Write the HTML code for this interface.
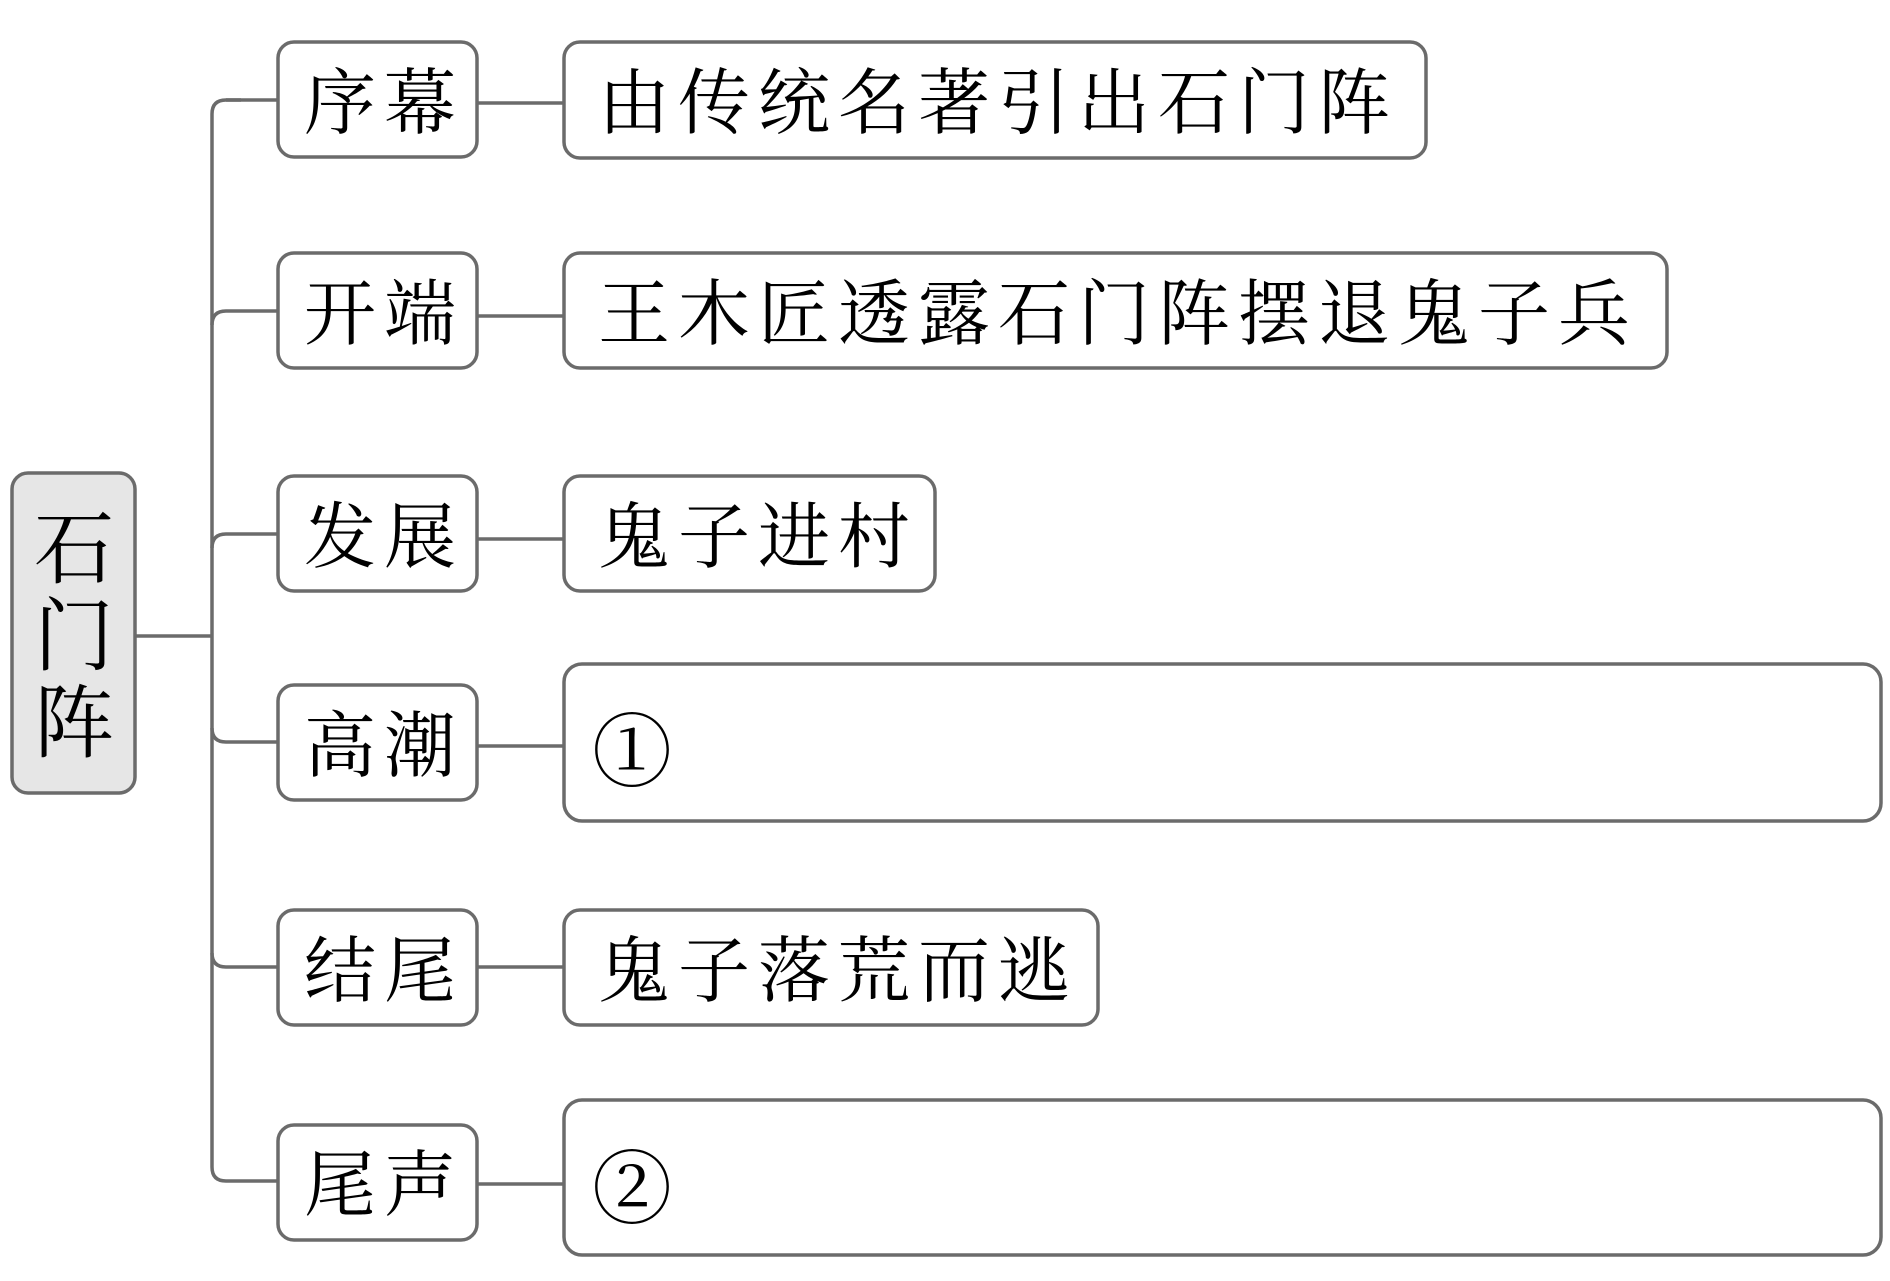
<!DOCTYPE html>
<html><head><meta charset="utf-8"><style>
html,body{margin:0;padding:0;background:#fff;}
svg{display:block}
text{font-family:"Liberation Serif","Noto Serif CJK SC",serif;fill:#000;}
</style></head><body>
<svg width="1890" height="1281" viewBox="0 0 1890 1281" xmlns="http://www.w3.org/2000/svg">
<g fill="none" stroke="#6b6b6b" stroke-width="3.5">
<path d="M241 100 H226 Q212 100 212 114 V1167 Q212 1181 226 1181 H278"/>
<line x1="135" y1="636" x2="212" y2="636"/>
<path d="M212 325 Q212 311 226 311 H278"/>
<path d="M212 548 Q212 534 226 534 H278"/>
<path d="M212 728 Q212 742 226 742 H278"/>
<path d="M212 953 Q212 967 226 967 H278"/>
<line x1="226" y1="100" x2="278" y2="100"/>
<line x1="477" y1="103" x2="564" y2="103"/>
<line x1="477" y1="316" x2="564" y2="316"/>
<line x1="477" y1="539" x2="564" y2="539"/>
<line x1="477" y1="746" x2="564" y2="746"/>
<line x1="477" y1="967" x2="564" y2="967"/>
<line x1="477" y1="1184" x2="564" y2="1184"/>
<rect x="12" y="473" width="123" height="320" rx="16" fill="#e6e6e6"/>
<rect x="278" y="42" width="199" height="115" rx="16" fill="#fff"/>
<rect x="278" y="253" width="199" height="115" rx="16" fill="#fff"/>
<rect x="278" y="476" width="199" height="115" rx="16" fill="#fff"/>
<rect x="278" y="685" width="199" height="115" rx="16" fill="#fff"/>
<rect x="278" y="910" width="199" height="115" rx="16" fill="#fff"/>
<rect x="278" y="1125" width="199" height="115" rx="16" fill="#fff"/>
<rect x="564" y="42" width="862" height="116" rx="16" fill="#fff"/>
<rect x="564" y="253" width="1103" height="115" rx="16" fill="#fff"/>
<rect x="564" y="476" width="371" height="115" rx="16" fill="#fff"/>
<rect x="564" y="664" width="1317" height="157" rx="18" fill="#fff"/>
<rect x="564" y="910" width="534" height="115" rx="16" fill="#fff"/>
<rect x="564" y="1100" width="1317" height="155" rx="18" fill="#fff"/>
</g>
<g font-size="80">
<text x="74" y="577" text-anchor="middle">石</text>
<text x="74" y="664" text-anchor="middle">门</text>
<text x="74" y="751" text-anchor="middle">阵</text>
</g>
<g font-size="72" letter-spacing="8">
<text x="304" y="128">序幕</text>
<text x="304" y="339">开端</text>
<text x="304" y="562">发展</text>
<text x="304" y="771">高潮</text>
<text x="304" y="996">结尾</text>
<text x="304" y="1210">尾声</text>
<text x="598" y="128">由传统名著引出石门阵</text>
<text x="598" y="339">王木匠透露石门阵摆退鬼子兵</text>
<text x="598" y="562">鬼子进村</text>
<text x="598" y="996">鬼子落荒而逃</text>
</g>
<g font-size="80">
<text x="592" y="780">①</text>
<text x="592" y="1217">②</text>
</g>
</svg>
</body></html>
